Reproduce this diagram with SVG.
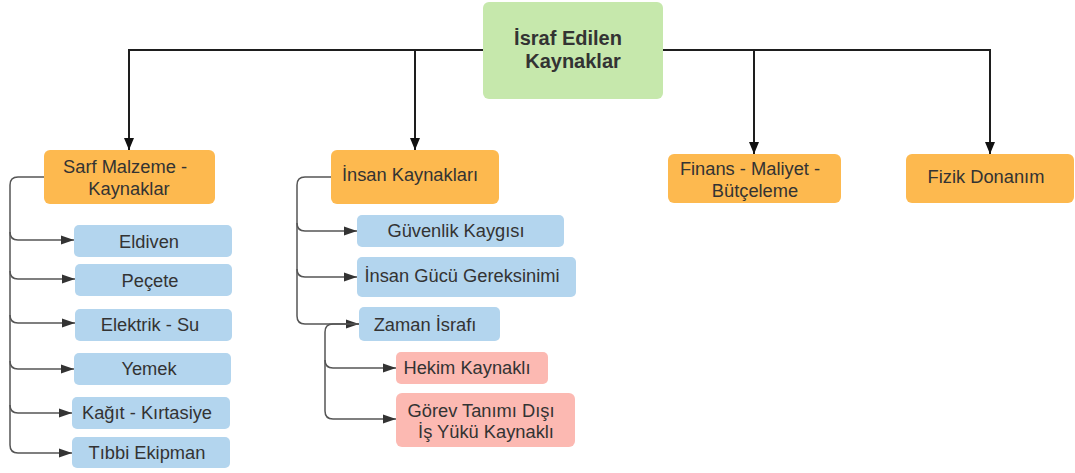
<svg xmlns="http://www.w3.org/2000/svg" width="1075" height="473" viewBox="0 0 1075 473">
  <style>
    text { font-family: "Liberation Sans", Arial, sans-serif; font-size: 18.3px; fill: #333333; text-anchor: middle; }
    .root rect { fill: #c6e8ac; }
    .main rect { fill: #fdb94f; }
    .sub rect { fill: #b3d5ee; }
    .leaf rect { fill: #fcb9b2; }
    .root text { font-weight: bold; font-size: 20px; }
    .top { fill: none; stroke: #1e1e1e; stroke-width: 2; }
    .tree { fill: none; stroke: #555555; stroke-width: 1.5; }
  </style>
  <defs>
    <marker id="arrowBig" viewBox="0 0 12 12" refX="12" refY="6" markerWidth="12" markerHeight="12" markerUnits="userSpaceOnUse" orient="auto">
      <path d="M0,1 L12,6 L0,11 Z" fill="#111111"/>
    </marker>
    <marker id="arrowSmall" viewBox="0 0 13 10" refX="13" refY="5" markerWidth="13" markerHeight="10" markerUnits="userSpaceOnUse" orient="auto">
      <path d="M0,0.5 L13,5 L0,9.5 Z" fill="#333333"/>
    </marker>
  </defs>

  <!-- connectors -->
  <g id="connectors">
    <path class="top" d="M483 50 H129 V150" marker-end="url(#arrowBig)"/>
    <path class="top" d="M415 50 V150" marker-end="url(#arrowBig)"/>
    <path class="top" d="M663 50 H990 V154" marker-end="url(#arrowBig)"/>
    <path class="top" d="M754 50 V154" marker-end="url(#arrowBig)"/>

    <!-- Sarf Malzeme branch -->
    <path class="tree" d="M44 177 H18 Q10 177 10 185 V445 Q10 453 18 453 H72" marker-end="url(#arrowSmall)"/>
    <path class="tree" d="M10 232 Q10 240 18 240 H74" marker-end="url(#arrowSmall)"/>
    <path class="tree" d="M10 271 Q10 279 18 279 H75" marker-end="url(#arrowSmall)"/>
    <path class="tree" d="M10 315 Q10 323 18 323 H75" marker-end="url(#arrowSmall)"/>
    <path class="tree" d="M10 361 Q10 369 18 369 H74" marker-end="url(#arrowSmall)"/>
    <path class="tree" d="M10 405 Q10 413 18 413 H72" marker-end="url(#arrowSmall)"/>

    <!-- İnsan Kaynakları branch -->
    <path class="tree" d="M331 177 H305 Q297 177 297 185 V316 Q297 324 305 324 H359" marker-end="url(#arrowSmall)"/>
    <path class="tree" d="M297 223 Q297 231 305 231 H357" marker-end="url(#arrowSmall)"/>
    <path class="tree" d="M297 269 Q297 277 305 277 H357" marker-end="url(#arrowSmall)"/>

    <!-- Zaman İsrafı branch -->
    <path class="tree" d="M359 324 H333 Q325 324 325 332 V411 Q325 419 333 419 H396" marker-end="url(#arrowSmall)"/>
    <path class="tree" d="M325 360 Q325 368 333 368 H396" marker-end="url(#arrowSmall)"/>
  </g>

  <g id="root" class="root">
    <rect x="483" y="2" width="180" height="97" rx="6"/>
    <text x="568" y="45">İsraf Edilen</text>
    <text x="573" y="68">Kaynaklar</text>
  </g>

  <g id="sarf" class="main">
    <rect x="44" y="150" width="171" height="54" rx="6"/>
    <text x="125" y="173">Sarf Malzeme -</text>
    <text x="129" y="195">Kaynaklar</text>
  </g>
  <g id="insan" class="main">
    <rect x="331" y="150" width="168" height="54" rx="6"/>
    <text x="410" y="181">İnsan Kaynakları</text>
  </g>
  <g id="finans" class="main">
    <rect x="668" y="154" width="173" height="49" rx="6"/>
    <text x="750" y="175">Finans - Maliyet -</text>
    <text x="755" y="197">Bütçeleme</text>
  </g>
  <g id="fizik" class="main">
    <rect x="906" y="154" width="168" height="49" rx="6"/>
    <text x="986" y="183">Fizik Donanım</text>
  </g>

  <g id="eldiven" class="sub">
    <rect x="74" y="225" width="158" height="32" rx="5"/>
    <text x="149" y="248">Eldiven</text>
  </g>
  <g id="pecete" class="sub">
    <rect x="75" y="264" width="157" height="32" rx="5"/>
    <text x="150" y="287">Peçete</text>
  </g>
  <g id="elektrik" class="sub">
    <rect x="75" y="309" width="157" height="32" rx="5"/>
    <text x="150" y="331">Elektrik - Su</text>
  </g>
  <g id="yemek" class="sub">
    <rect x="74" y="353" width="157" height="32" rx="5"/>
    <text x="149" y="375">Yemek</text>
  </g>
  <g id="kagit" class="sub">
    <rect x="72" y="397" width="158" height="32" rx="5"/>
    <text x="147" y="419">Kağıt - Kırtasiye</text>
  </g>
  <g id="tibbi" class="sub">
    <rect x="72" y="437" width="158" height="31" rx="5"/>
    <text x="147" y="459">Tıbbi Ekipman</text>
  </g>

  <g id="guvenlik" class="sub">
    <rect x="357" y="215" width="207" height="32" rx="5"/>
    <text x="456" y="237">Güvenlik Kaygısı</text>
  </g>
  <g id="insangucu" class="sub">
    <rect x="357" y="257" width="219" height="40" rx="5"/>
    <text x="462" y="282">İnsan Gücü Gereksinimi</text>
  </g>
  <g id="zaman" class="sub">
    <rect x="359" y="307" width="141" height="34" rx="5"/>
    <text x="425" y="331">Zaman İsrafı</text>
  </g>

  <g id="hekim" class="leaf">
    <rect x="396" y="352" width="152" height="32" rx="5"/>
    <text x="467" y="374">Hekim Kaynaklı</text>
  </g>
  <g id="gorev" class="leaf">
    <rect x="396" y="393" width="179" height="54" rx="6"/>
    <text x="481" y="417">Görev Tanımı Dışı</text>
    <text x="486" y="438">İş Yükü Kaynaklı</text>
  </g>
</svg>
